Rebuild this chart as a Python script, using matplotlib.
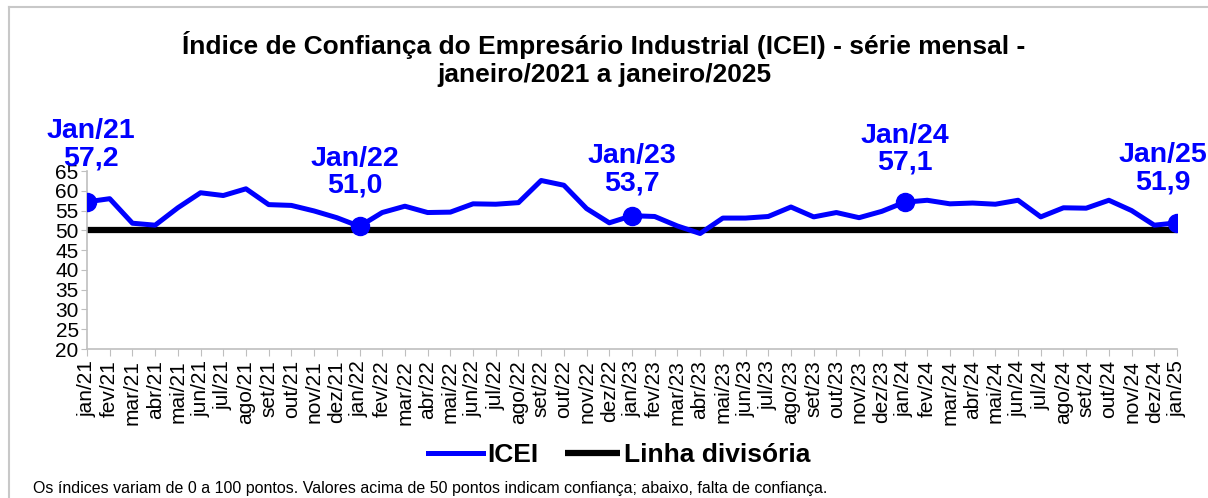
import matplotlib
matplotlib.use('Agg')
import matplotlib.pyplot as plt
from matplotlib.lines import Line2D

plt.rcParams['font.family'] = ['Liberation Sans', 'DejaVu Sans']

# Monthly labels jan/21 .. jan/25
meses = ["jan", "fev", "mar", "abr", "mai", "jun", "jul", "ago", "set", "out", "nov", "dez"]
labels = [f"{m}/{a}" for a in ["21", "22", "23", "24"] for m in meses] + ["jan/25"]

icei = [57.2, 58.0, 51.8, 51.3, 55.7, 59.5, 58.8, 60.5, 56.5, 56.3, 54.9, 53.2,
        51.0, 54.5, 56.1, 54.5, 54.6, 56.7, 56.6, 57.0, 62.6, 61.4, 55.5, 51.9,
        53.7, 53.5, 51.1, 49.2, 53.1, 53.1, 53.5, 55.9, 53.4, 54.5, 53.2, 54.8,
        57.1, 57.6, 56.7, 56.9, 56.6, 57.6, 53.4, 55.7, 55.6, 57.6, 55.0, 51.3,
        51.9]
divisoria = [50] * len(icei)

# highlighted points (January of each year)
destaque_idx = [0, 12, 24, 36, 48]
destaque_txt = ["Jan/21", "Jan/22", "Jan/23", "Jan/24", "Jan/25"]

blue = '#0000ff'
x = list(range(len(icei)))

fig = plt.figure(figsize=(12.08, 4.98), dpi=100)
ax = fig.add_axes([87 / 1208, 1 - 349 / 498, (1177 - 87) / 1208, (349 - 171) / 498])

ax.plot(x, divisoria, color='black', lw=4.5, solid_capstyle='butt', label='Linha divisória', zorder=2)
ax.plot(x, icei, color=blue, lw=3.6, label='ICEI', zorder=3)
ax.plot([x[i] for i in destaque_idx], [icei[i] for i in destaque_idx], 'o', color=blue, ms=13, zorder=4)

# labels above highlighted points
offsets = [(3, 22), (-3, 20), (0, 14), (0, 19), (-10, 20)]
for i, txt, off in zip(destaque_idx, destaque_txt, offsets):
    val = f"{icei[i]:.1f}".replace('.', ',')
    ax.annotate(f"{txt}\n{val}", (x[i], icei[i]), xytext=off, textcoords='offset points',
                ha='center', va='bottom', color=blue, fontsize=20.5, fontweight='bold',
                linespacing=1.05, annotation_clip=False, zorder=5)

ax.set_xlim(0, len(icei) - 1)
ax.set_ylim(20, 65)
ax.set_yticks(range(20, 66, 5))
ax.set_xticks(x)
ax.set_xticklabels(labels, rotation=90, fontsize=15)
ax.tick_params(axis='y', labelsize=15, length=4, color='#bfbfbf', pad=2)
ax.tick_params(axis='x', length=5, color='#bfbfbf', pad=3)
for s in ['top', 'right']:
    ax.spines[s].set_visible(False)
for s in ['left', 'bottom']:
    ax.spines[s].set_color('#bfbfbf')
    ax.spines[s].set_linewidth(1.2)

# legend (ICEI first)
h, l = ax.get_legend_handles_labels()
leg = fig.legend([h[1], h[0]], [l[1], l[0]], loc='center', bbox_to_anchor=(619 / 1208, 1 - 455 / 498),
                 ncol=2, frameon=False, prop={'weight': 'bold', 'size': 19},
                 handlelength=2.1, handletextpad=0.15, columnspacing=1.0)

fig.text(604 / 1208, 1 - 45 / 498, "Índice de Confiança do Empresário Industrial (ICEI) - série mensal -",
         ha='center', va='center', fontsize=19, fontweight='bold')
fig.text(604 / 1208, 1 - 75 / 498, "janeiro/2021 a janeiro/2025",
         ha='center', va='center', fontsize=19, fontweight='bold')
fig.text(33 / 1208, 1 - 488 / 498,
         "Os índices variam de 0 a 100 pontos. Valores acima de 50 pontos indicam confiança; abaixo, falta de confiança.",
         ha='left', va='center', fontsize=11.5)

# outer border (left and top visible)
fig.add_artist(Line2D([9 / 1208, 9 / 1208], [0, 1 - 7 / 498], color='#c8c8c8', lw=1.5))
fig.add_artist(Line2D([9 / 1208, 1], [1 - 7 / 498, 1 - 7 / 498], color='#c8c8c8', lw=1.5))

fig.savefig('out.png', dpi=100)
